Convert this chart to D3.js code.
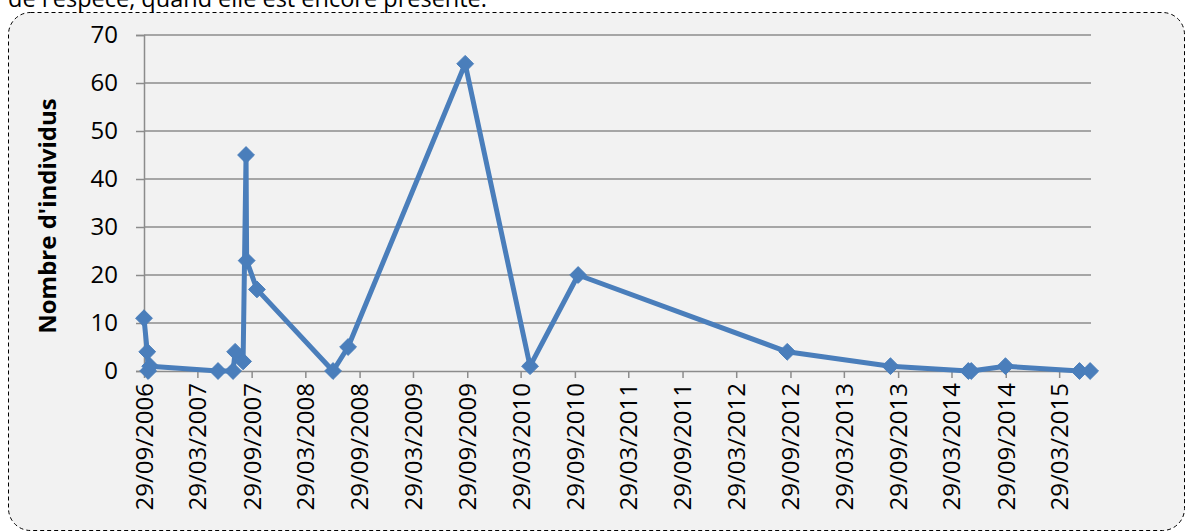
<!DOCTYPE html>
<html>
<head>
<meta charset="utf-8">
<script src="https://d3js.org/d3.v7.min.js"></script>
<style>
  body { margin: 0; background: #fff; }
  text { font-family: "Open Sans", "Noto Sans", sans-serif; fill: #000; }
</style>
</head>
<body>
<div id="chart"></div>
<script>
// sampling dates (dd/mm/yyyy) and counts
var dates = ["29/09/2006", "10/10/2006", "13/10/2006", "20/10/2006", "07/06/2007",
  "28/07/2007", "04/08/2007", "31/08/2007", "10/09/2007", "12/09/2007", "17/10/2007",
  "01/07/2008", "21/08/2008", "22/09/2009", "30/04/2010", "10/10/2010",
  "18/09/2012", "03/09/2013", "25/05/2014", "04/06/2014", "28/09/2014",
  "06/06/2015", "12/07/2015"];
var counts = [11, 4, 0, 1, 0,
  0, 4, 2, 45, 23, 17,
  0, 5, 64, 1, 20,
  4, 1, 0, 0, 1,
  0, 0];
var yTicks = [0, 10, 20, 30, 40, 50, 60, 70];
var axisStart = "29/09/2006", axisEnd = "15/07/2015";
var yTitle = "Nombre d'individus";
var topText = "de l'espèce, quand elle est encore présente.";

var parse = d3.timeParse("%d/%m/%Y");
var fmt = d3.timeFormat("%d/%m/%Y");
var data = dates.map(function(d, i) { return { date: parse(d), n: counts[i] }; });

var W = 1187, H = 532;
var margin = { left: 144, right: 96, top: 35, bottom: 161 };

var svg = d3.select("#chart").append("svg")
  .attr("width", W).attr("height", H);

// chart area frame
svg.append("rect")
  .attr("x", 8.5).attr("y", 12.5)
  .attr("width", 1176).attr("height", 518)
  .attr("rx", 22).attr("ry", 22)
  .attr("fill", "#f2f2f2")
  .attr("stroke", "#000").attr("stroke-width", 1)
  .attr("stroke-dasharray", "4,3");

svg.append("text")
  .attr("x", 8).attr("y", 7)
  .style("font-size", "23.5px")
  .text(topText);

var x = d3.scaleTime()
  .domain([parse(axisStart), parse(axisEnd)])
  .range([margin.left, W - margin.right]);
var y = d3.scaleLinear()
  .domain([0, 70])
  .range([H - margin.bottom, margin.top]);

// six-monthly ticks starting at the first date
var xTicks = [];
for (var i = 0; i < 18; i++) xTicks.push(d3.timeMonth.offset(parse(axisStart), i * 6));

// gridlines
svg.append("g").selectAll("line")
  .data(yTicks.filter(function(d) { return d > 0; }))
  .enter().append("line")
  .attr("x1", margin.left).attr("x2", W - margin.right)
  .attr("y1", function(d) { return y(d); }).attr("y2", function(d) { return y(d); })
  .attr("stroke", "#8c8c8c").attr("stroke-width", 1.5);

// y axis
var yAxis = svg.append("g")
  .attr("transform", "translate(" + margin.left + ",0)")
  .call(d3.axisLeft(y).tickValues(yTicks).tickSize(8).tickPadding(18));
yAxis.select(".domain").attr("stroke", "#8c8c8c").attr("stroke-width", 1.5);
yAxis.selectAll(".tick line").attr("stroke", "#8c8c8c").attr("stroke-width", 1.5);
yAxis.selectAll("text").style("font-size", "24px").attr("fill", "#000");

// x axis
var xAxis = svg.append("g")
  .attr("transform", "translate(0," + y(0) + ")")
  .call(d3.axisBottom(x).tickValues(xTicks).tickFormat(fmt).tickSize(7).tickSizeOuter(0));
xAxis.select(".domain").attr("stroke", "#8c8c8c").attr("stroke-width", 1.5);
xAxis.selectAll(".tick line").attr("stroke", "#8c8c8c").attr("stroke-width", 1.5);
xAxis.selectAll("text")
  .style("font-size", "24px").attr("fill", "#000")
  .attr("text-anchor", "end")
  .attr("transform", "rotate(-90)")
  .attr("x", -12).attr("y", 0).attr("dy", "0.35em");

// y title
svg.append("text")
  .attr("transform", "translate(56,216) rotate(-90)")
  .attr("text-anchor", "middle")
  .style("font-size", "24px").style("font-weight", "bold")
  .text(yTitle);

// series line
svg.append("path")
  .datum(data)
  .attr("fill", "none")
  .attr("stroke", "#4a7ebb")
  .attr("stroke-width", 5)
  .attr("stroke-linejoin", "round")
  .attr("d", d3.line()
    .x(function(d) { return x(d.date); })
    .y(function(d) { return y(d.n); }));

// diamond markers
svg.append("g").selectAll("path")
  .data(data)
  .enter().append("path")
  .attr("d", d3.symbol().type(d3.symbolDiamond2).size(180))
  .attr("transform", function(d) { return "translate(" + x(d.date) + "," + y(d.n) + ")"; })
  .attr("fill", "#4a7ebb")
  .attr("stroke", "#4a7ebb").attr("stroke-width", 1);
</script>
</body>
</html>
